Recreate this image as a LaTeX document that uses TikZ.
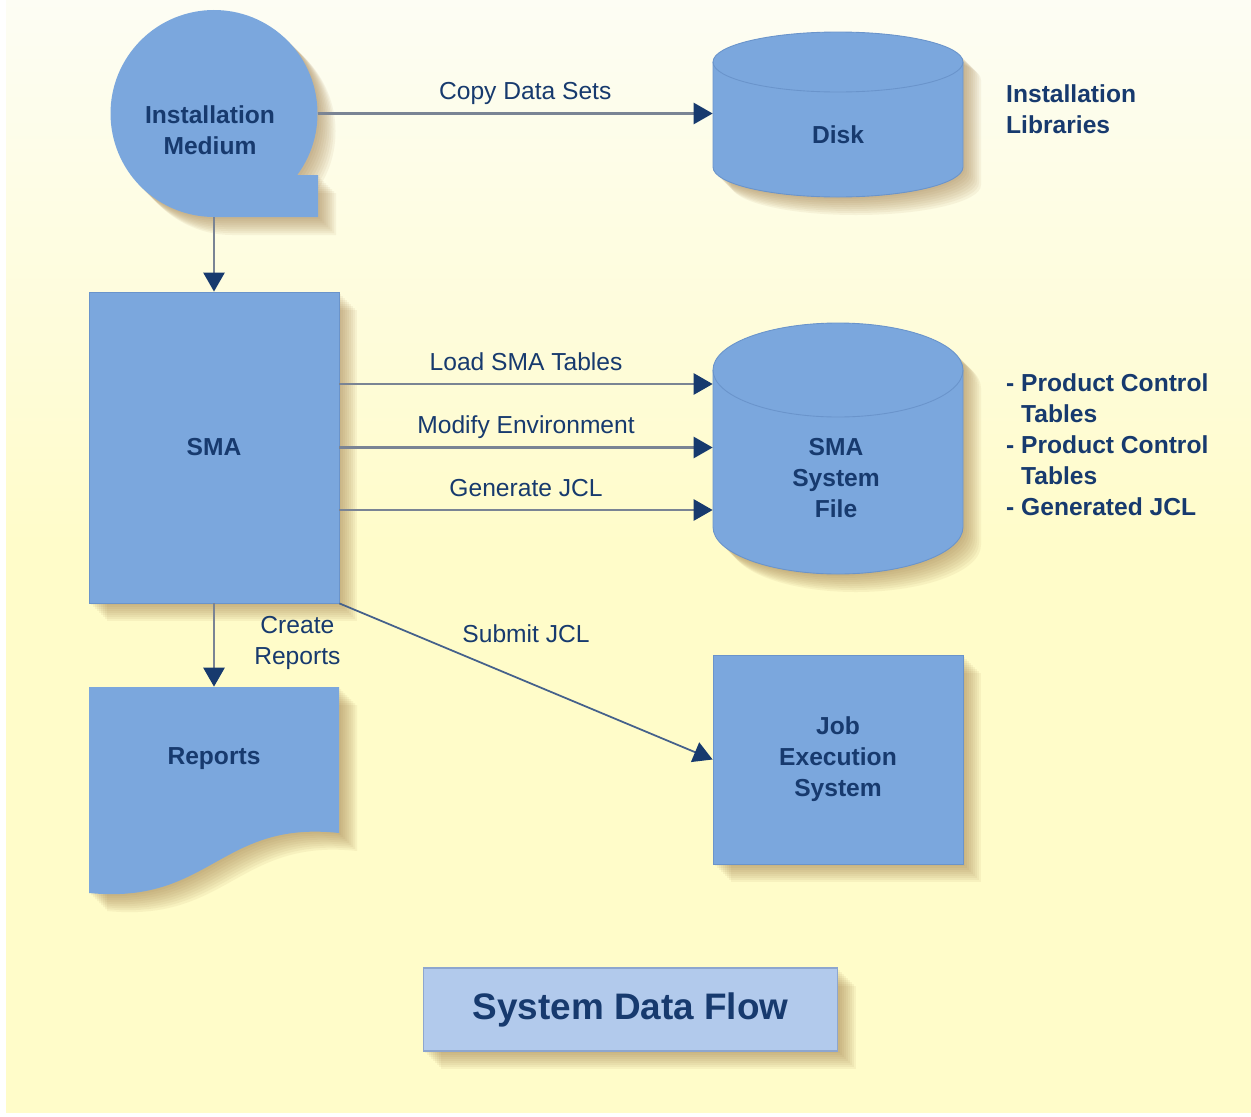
\documentclass[tikz,border=0pt]{standalone}
\usepackage{fontspec}
\setmainfont{Liberation Sans}
\usetikzlibrary{positioning,calc,arrows.meta}
\definecolor{cfill}{HTML}{7BA7DD}
\definecolor{cline}{HTML}{6A94CB}
\definecolor{cnavy}{HTML}{173A6E}
\definecolor{carrow}{HTML}{7A8494}
\definecolor{cshadow}{HTML}{9D7A46}
\definecolor{cbgtop}{HTML}{FDFDF4}
\definecolor{cbg}{HTML}{FFFCC9}
\definecolor{ctitle}{HTML}{B2CAEC}
\definecolor{ctitleline}{HTML}{8DA6CF}

% outlines in pixel units
\newcommand{\tapepath}{(297.25,175) arc[start angle=36.46, end angle=-270, radius=103.5] -- (318,217) -- (318,175) -- cycle}
\newcommand{\docpath}{(89,687) -- (339,687) -- (339,833) .. controls (220,820) and (210,905) .. (89,893) -- cycle}
\newcommand{\cylpath}[3]{(713,#1) -- (713,#3) arc[start angle=180, end angle=0, x radius=125, y radius=#2] -- (963,#1) arc[start angle=0, end angle=-180, x radius=125, y radius=#2] -- cycle}
\newcommand{\softshadow}[1]{\foreach \s in {2,4,...,18}{\fill[cshadow, opacity=0.08, shift={(\s,\s)}] #1;}}

\begin{document}
\begin{tikzpicture}[
    x=0.02cm, y=-0.02cm,
    box/.style={draw=cline, fill=cfill, line width=0.5pt, text=cnavy, align=center,
                font=\bfseries\fontsize{14}{17.6}\selectfont, minimum width=5cm, inner sep=0pt},
    area/.style={inner sep=0pt, minimum width=5cm},
    txt/.style={text=cnavy, align=center, font=\bfseries\fontsize{14}{17.6}\selectfont},
    lbl/.style={text=cnavy, font=\fontsize{14}{17.6}\selectfont, inner sep=0pt, text depth=0pt},
    titlebox/.style={draw=ctitleline, fill=ctitle, line width=0.6pt, text=cnavy,
                     font=\bfseries\fontsize{21}{25}\selectfont, minimum width=8.3cm, minimum height=1.66cm},
    flow/.style={draw=carrow, line width=1.5pt, -{Triangle[length=0.38cm, width=0.42cm, color=cnavy]}},
    shape line/.style={draw=cline, line width=0.5pt}
  ]
  \useasboundingbox (0,0) rectangle (1251,1116);
  \fill[white] (0,0) rectangle (1251,1116);
  \shade[top color=cbgtop, bottom color=cbg, middle color=cbg] (6,0) rectangle (1251,1112);

  % shadows
  \softshadow{\tapepath}
  \softshadow{\cylpath{62}{30}{167}}
  \softshadow{\cylpath{370}{47}{527}}
  \softshadow{(89,292) rectangle (339,603)}
  \softshadow{\docpath}
  \softshadow{(713,655) rectangle (963,864)}
  \softshadow{(423,968) rectangle (838,1051)}

  % drawn shapes
  \fill[cfill] \tapepath;
  \draw[shape line, fill=cfill] \cylpath{62}{30}{167};
  \draw[shape line] (713,62) arc[start angle=180, end angle=0, x radius=125, y radius=30];
  \draw[shape line, fill=cfill] \cylpath{370}{47}{527};
  \draw[shape line] (713,370) arc[start angle=180, end angle=0, x radius=125, y radius=47];
  \fill[cfill] \docpath;

  % nodes
  \node[area, circle, minimum size=4.14cm] (inst) at (214,113.5) {};
  \node[txt] (insttxt) at (210,130) {Installation\\Medium};
  \node[area, minimum height=3.3cm] (disk) at (838,114.5) {};
  \node[txt] (disktxt) at (838,135) {Disk};
  \node[txt, anchor=west, align=left] (libtxt) at (1000,109) {Installation\\Libraries};

  \node[box, minimum height=6.22cm] (sma) at (214,447.5) {SMA};
  \node[area, minimum height=5.02cm] (sysfile) at (838,448.5) {};
  \node[txt] (sysfiletxt) at (836,478) {SMA\\System\\File};
  \node[txt, anchor=west, align=left] (tables) at (1000,445) {%
    - Product Control\\\hphantom{-}\ Tables\\- Product Control\\\hphantom{-}\ Tables\\- Generated JCL};

  \node[area, minimum height=4.12cm] (reports) at (214,790) {};
  \node[txt] (reportstxt) at (214,759) {Reports};
  \node[box, minimum height=4.18cm] (job) at (838,759.5) {Job\\Execution\\System};

  \node[titlebox] (title) at (630.5,1009.5) {System Data Flow};

  % connectors
  \draw[flow] (inst.east) -- (inst.east -| disk.west)
    node[lbl, midway, above=0.25cm, xshift=0.2cm] {Copy Data Sets};
  \draw[flow] (inst.south) -- (sma.north);
  \foreach \dy/\txt in {-63.5/Load SMA Tables, 0/Modify Environment, 62.5/Generate JCL}{
    \coordinate (from) at ($(sma.east)+(0,\dy)$);
    \draw[flow] (from) -- (from -| sysfile.west) node[lbl, midway, above=0.25cm] {\txt};
  }
  \draw[flow] (sma.south) -- (reports.north)
    node[lbl, midway, right=0.78cm, align=center, yshift=0.1cm] {Create\\Reports};
  \draw[flow, draw=cnavy!80, line width=1pt] (sma.south east) -- (job.west)
    node[lbl, midway, above=0.77cm] {Submit JCL};
\end{tikzpicture}
\end{document}
